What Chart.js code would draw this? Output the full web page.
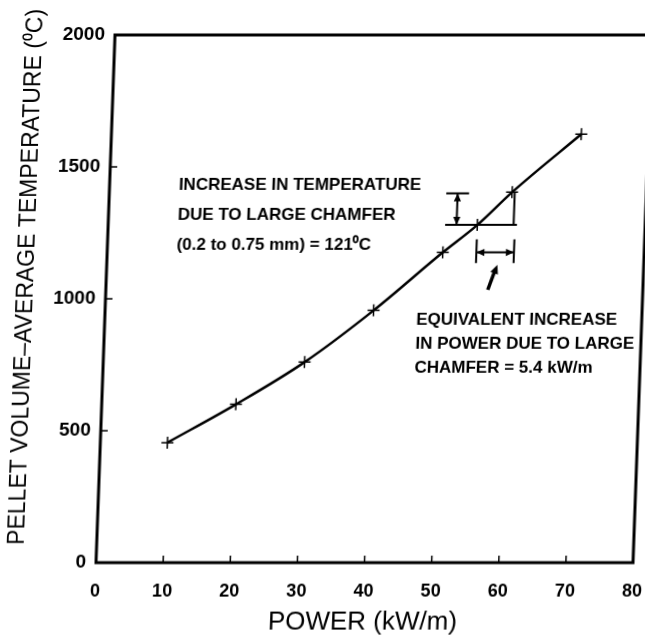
<!DOCTYPE html>
<html>
<head>
<meta charset="utf-8">
<script src="https://cdn.jsdelivr.net/npm/chart.js@4.4.1/dist/chart.umd.min.js"></script>
<style>
html, body { margin: 0; padding: 0; background: #fff; overflow: hidden; }
#mycanvas { display: block; transform: skewX(-2.06deg); transform-origin: 0 563px; }
</style>
</head>
<body>
<canvas id="mycanvas" width="645" height="642"></canvas>
<script>
// power (kW/m) and pellet volume-average temperature (deg C)
var power = [10, 20, 30, 40, 50, 55, 60, 70];
var temperature = [455, 600, 760, 956, 1176, 1280, 1404, 1624];
var xTicks = [0, 10, 20, 30, 40, 50, 60, 70, 80];
var yTicks = [0, 500, 1000, 1500, 2000];
var leftNote = ['INCREASE IN TEMPERATURE', 'DUE TO LARGE CHAMFER', '(0.2 to 0.75 mm) = 121\u2070C'];
var rightNote = ['EQUIVALENT INCREASE', 'IN POWER DUE TO LARGE', 'CHAMFER = 5.4 kW/m'];
var yTitle = 'PELLET VOLUME\u2013AVERAGE TEMPERATURE (\u2070C)';
var xTitle = 'POWER (kW/m)';

var FONT = "'Liberation Sans', Arial, Helvetica, sans-serif";

function arrowHead(ctx, x, y, dx, dy, size) {
    var len = Math.sqrt(dx * dx + dy * dy);
    var ux = dx / len, uy = dy / len;
    ctx.beginPath();
    ctx.moveTo(x, y);
    ctx.lineTo(x - ux * size - uy * size * 0.45, y - uy * size + ux * size * 0.45);
    ctx.lineTo(x - ux * size + uy * size * 0.45, y - uy * size - ux * size * 0.45);
    ctx.closePath();
    ctx.fill();
}

var framePlugin = {
    id: 'frame',
    afterDraw: function(chart) {
        var ctx = chart.ctx, a = chart.chartArea;
        var xs = chart.scales.x, ys = chart.scales.y;
        var X = function(v) { return xs.getPixelForValue(v); };
        var Y = function(v) { return ys.getPixelForValue(v); };
        ctx.save();
        ctx.strokeStyle = '#000';
        ctx.fillStyle = '#000';
        ctx.lineWidth = 3;
        ctx.strokeRect(a.left, a.top, a.right - a.left, a.bottom - a.top);

        // inward tick marks
        ctx.lineWidth = 1.5;
        ctx.beginPath();
        xTicks.forEach(function(v) {
            if (v > xTicks[0] && v < xTicks[xTicks.length - 1]) {
                ctx.moveTo(X(v), a.bottom);
                ctx.lineTo(X(v), a.bottom - 7);
            }
        });
        yTicks.forEach(function(v) {
            if (v > yTicks[0] && v < yTicks[yTicks.length - 1]) {
                ctx.moveTo(a.left, Y(v));
                ctx.lineTo(a.left + 7, Y(v));
            }
        });
        ctx.stroke();

        // temperature increase dimension
        ctx.lineWidth = 2;
        ctx.beginPath();
        ctx.moveTo(X(50.2), Y(1400)); ctx.lineTo(X(53.6), Y(1400));
        ctx.moveTo(X(50.2), Y(1280)); ctx.lineTo(X(60.9), Y(1280));
        ctx.moveTo(X(60.4), Y(1404)); ctx.lineTo(X(60.4), Y(1280));
        ctx.moveTo(X(51.9), Y(1400)); ctx.lineTo(X(51.9), Y(1280));
        ctx.stroke();
        arrowHead(ctx, X(51.9), Y(1400), 0, -1, 8);
        arrowHead(ctx, X(51.9), Y(1280), 0, 1, 8);

        // power increase dimension
        ctx.beginPath();
        ctx.moveTo(X(55), Y(1225)); ctx.lineTo(X(55), Y(1135));
        ctx.moveTo(X(60.6), Y(1225)); ctx.lineTo(X(60.6), Y(1135));
        ctx.moveTo(X(55), Y(1176)); ctx.lineTo(X(60.6), Y(1176));
        ctx.stroke();
        arrowHead(ctx, X(55), Y(1176), -1, 0, 8);
        arrowHead(ctx, X(60.6), Y(1176), 1, 0, 8);

        // pointer
        ctx.lineWidth = 3.5;
        ctx.beginPath();
        ctx.moveTo(X(56.9), Y(1034));
        ctx.lineTo(X(57.9), Y(1110));
        ctx.stroke();
        var dx = X(58.2) - X(56.9), dy = Y(1129) - Y(1034);
        arrowHead(ctx, X(58.2), Y(1129), dx, dy, 9);

        // notes
        ctx.font = 'bold 17px ' + FONT;
        ctx.textBaseline = 'middle';
        ctx.textAlign = 'left';
        leftNote.forEach(function(t, i) {
            ctx.fillText(t, X(10.3), Y(1431) + i * 30);
        });
        rightNote.forEach(function(t, i) {
            ctx.fillText(t, X(46.4), Y(918) + i * 24);
        });

        // y axis title
        ctx.font = '23px ' + FONT;
        ctx.textAlign = 'center';
        ctx.translate(17, 277);
        ctx.rotate(-Math.PI / 2);
        ctx.fillText(yTitle, 0, 0);
        ctx.restore();
    }
};

var chartdata = {
    datasets: [{
        label: 'Temperature',
        data: power.map(function(p, i) { return { x: p, y: temperature[i] }; }),
        borderColor: '#000',
        backgroundColor: '#000',
        borderWidth: 2.5,
        tension: 0.3,
        cubicInterpolationMode: 'monotone',
        pointStyle: 'cross',
        pointRadius: 6,
        pointBorderWidth: 1.5,
        pointBorderColor: '#000'
    }]
};

var graph = new Chart(document.getElementById('mycanvas'), {
    type: 'line',
    data: chartdata,
    options: {
        responsive: false,
        animation: false,
        layout: { padding: { top: 35, right: 12, bottom: 0, left: 0 } },
        plugins: { legend: { display: false }, tooltip: { enabled: false } },
        scales: {
            x: {
                type: 'linear',
                min: 0, max: 80,
                afterFit: function(s) { s.height = 79; s.paddingLeft = 0; s.paddingRight = 0; },
                afterBuildTicks: function(s) { s.ticks = xTicks.map(function(v) { return { value: v }; }); },
                grid: { display: false, drawTicks: false },
                border: { display: false },
                ticks: { color: '#000', padding: 18, font: { family: FONT, size: 18, weight: 'bold' },
                          callback: function(v) { return String(v); } },
                title: { display: true, text: xTitle, color: '#000', font: { family: FONT, size: 26 },
                         padding: { top: 0, bottom: 4 } }
            },
            y: {
                type: 'linear',
                min: 0, max: 2000,
                afterFit: function(s) { s.width = 96; s.paddingTop = 0; s.paddingBottom = 0; },
                afterBuildTicks: function(s) { s.ticks = yTicks.map(function(v) { return { value: v }; }); },
                grid: { display: false, drawTicks: false },
                border: { display: false },
                ticks: { color: '#000', padding: 10, font: { family: FONT, size: 19, weight: 'bold' },
                         callback: function(v) { return String(v); } }
            }
        }
    },
    plugins: [framePlugin]
});
</script>
</body>
</html>
